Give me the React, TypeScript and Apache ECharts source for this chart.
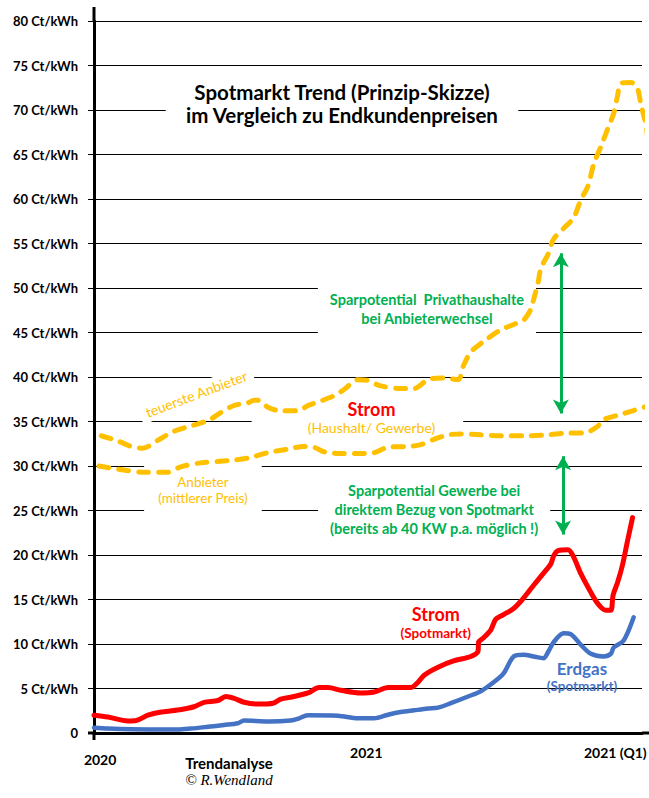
import React, { useEffect, useRef } from 'react';
import * as echarts from 'echarts';

// ---- axis definitions ----
const yMin = 0;
const yMax = 80;
const yStep = 5;
const yUnit = 'Ct/kWh';
const xMin = 0;
const xMax = 98.6;
const xTickPositions = [1.1, 49.0, 93.8];
const xTickLabels = ['2020', '2021', '2021 (Q1)'];

// ---- series values (x = position on the sketch time line, y = Ct/kWh) ----
const stromSpotX = [0, 2.5, 6.1, 7.6, 9.7, 12.1, 15.7, 18.0, 19.8, 22.3, 23.7, 25.2, 27.0, 29.5, 32.2, 33.6, 36.0, 38.5, 40.5, 42.1, 44.4, 48.0, 50.4, 52.9, 54.7, 57.0, 58.3, 59.4, 61.9, 64.7, 67.8, 69.1, 69.2, 70.1, 71.4, 72.3, 73.7, 75.5, 76.8, 78.1, 79.1, 80.4, 82.2, 82.7, 83.5, 85.3, 86.2, 87.6, 89.4, 90.7, 92.1, 93.0, 93.4, 94.2, 95.1, 96.0, 96.9];
const stromSpotY = [2.0, 1.8, 1.35, 1.4, 2.0, 2.35, 2.65, 2.95, 3.45, 3.65, 4.1, 3.9, 3.45, 3.25, 3.35, 3.8, 4.1, 4.5, 5.1, 5.1, 4.8, 4.5, 4.6, 5.1, 5.1, 5.1, 5.7, 6.5, 7.4, 8.1, 8.6, 9.2, 10.2, 10.7, 11.6, 12.8, 13.3, 14.0, 14.8, 15.8, 16.6, 17.6, 19.0, 19.9, 20.5, 20.6, 19.9, 17.9, 15.8, 14.5, 13.8, 13.8, 15.5, 16.9, 18.9, 21.6, 24.2];

const erdgasSpotX = [0, 2.5, 9.7, 15.1, 17.4, 20.5, 23.4, 25.9, 27.0, 31.3, 35.4, 36.7, 38.5, 43.9, 47.5, 50.4, 52.9, 55.2, 57.6, 60.1, 61.9, 64.2, 67.3, 69.6, 71.9, 73.7, 75.5, 77.3, 79.1, 80.9, 81.7, 82.7, 84.5, 85.8, 87.6, 89.4, 91.7, 93.0, 93.5, 95.3, 97.1];
const erdgasSpotY = [0.6, 0.5, 0.4, 0.4, 0.5, 0.7, 0.9, 1.1, 1.4, 1.3, 1.4, 1.6, 2.0, 1.95, 1.65, 1.65, 2.05, 2.35, 2.55, 2.75, 2.85, 3.35, 4.1, 4.7, 5.7, 6.7, 8.6, 8.8, 8.6, 8.4, 9.1, 10.2, 11.2, 11.1, 9.9, 8.9, 8.6, 8.9, 9.6, 10.4, 13.0];

const teuersteX = [1.3, 4.3, 6.7, 8.8, 11.5, 14.4, 17.4, 20.5, 22.8, 25.2, 27.7, 28.8, 30.0, 31.3, 33.6, 36.7, 38.5, 40.8, 43.2, 45.0, 47.5, 49.3, 51.6, 55.2, 57.6, 60.1, 62.9, 65.5, 66.5, 67.8, 70.1, 73.2, 75.5, 77.3, 78.6, 79.1, 79.9, 80.4, 81.7, 82.7, 84.5, 86.3, 87.6, 88.9, 89.9, 91.2, 92.5, 93.5, 94.2, 94.8, 96.6, 97.8, 98.4, 99.3, 99.8];
const teuersteY = [33.4, 32.8, 32.2, 32.0, 32.9, 33.9, 34.5, 35.1, 36.0, 36.8, 37.1, 37.4, 37.3, 36.6, 36.2, 36.2, 36.8, 37.3, 37.9, 38.6, 39.7, 39.6, 39.0, 38.7, 38.7, 39.7, 39.9, 39.7, 41.3, 42.8, 44.0, 45.3, 45.9, 46.4, 47.6, 48.7, 50.6, 52.2, 53.8, 55.5, 56.7, 57.9, 59.9, 61.5, 63.9, 65.9, 68.0, 69.6, 71.6, 73.0, 73.1, 72.4, 70.6, 68.4, 65.9];

const mittelX = [0.9, 4.3, 9.0, 13.3, 15.6, 19.2, 24.1, 27.7, 31.3, 34.9, 37.8, 39.6, 41.4, 44.4, 48.6, 50.4, 52.9, 56.5, 58.8, 61.2, 63.7, 66.0, 69.6, 73.2, 78.1, 81.7, 85.3, 88.1, 90.7, 91.2, 94.8, 100];
const mittelY = [30.0, 29.65, 29.3, 29.3, 29.9, 30.35, 30.6, 30.9, 31.5, 31.9, 32.2, 32.1, 31.6, 31.4, 31.4, 31.5, 32.1, 32.2, 32.4, 33.0, 33.5, 33.6, 33.5, 33.4, 33.4, 33.5, 33.7, 33.7, 34.5, 35.1, 35.8, 36.8];

// savings arrows: [x, from, to]
const arrowPrivat = [84.0, 53.9, 35.9];
const arrowGewerbe = [84.4, 31.1, 22.3];

const FONT = 'Lato';
const YELLOW = '#FFC000';
const RED = '#FF0000';
const BLUE = '#4472C4';
const GREEN = '#00B050';

const zip = (xs: number[], ys: number[]) => xs.map((x, i) => [x, ys[i]]);

export default function App() {
  const ref = useRef<HTMLDivElement>(null);

  useEffect(() => {
    if (!ref.current) return;
    const chart = echarts.init(ref.current, null, { renderer: 'svg' });

    const dashed = (color: string) => ({
      color,
      width: 5,
      type: [10, 10] as any,
      cap: 'round' as const,
      join: 'round' as const,
    });

    chart.setOption({
      animation: false,
      backgroundColor: '#ffffff',
      grid: { left: 94, right: 7, top: 21, bottom: 65, outerBoundsMode: 'none' } as any,
      xAxis: {
        type: 'value',
        min: xMin,
        max: xMax,
        z: 0,
        axisLine: { show: true, lineStyle: { color: '#000', width: 3 } },
        axisTick: { show: false },
        splitLine: { show: false },
        axisLabel: {
          show: true,
          customValues: xTickPositions,
          margin: 12,
          color: '#000',
          fontFamily: FONT,
          fontWeight: 'bold',
          fontSize: 14,
          formatter: (v: number) => {
            const i = xTickPositions.findIndex((p) => Math.abs(p - v) < 0.01);
            if (i < 0) return '';
            return i === 0 ? `{lo|${xTickLabels[i]}}` : `{n|${xTickLabels[i]}}`;
          },
          rich: {
            n: { fontFamily: FONT, fontWeight: 'bold', fontSize: 14, color: '#000' },
            lo: { fontFamily: FONT, fontWeight: 'bold', fontSize: 14, color: '#000', padding: [7, 0, 0, 0] },
          },
        },
      },
      yAxis: {
        type: 'value',
        min: yMin,
        max: yMax,
        interval: yStep,
        z: 0,
        axisLine: { show: true, lineStyle: { color: '#000', width: 3 } },
        axisTick: { show: true, length: 6, lineStyle: { color: '#000', width: 1 } },
        splitLine: { show: true, lineStyle: { color: '#000', width: 1 } },
        axisLabel: {
          margin: 16,
          color: '#000',
          fontFamily: FONT,
          fontWeight: 'bold',
          fontSize: 13,
          formatter: (v: number) => (v === 0 ? '0' : `${v} ${yUnit}`),
        },
      },
      series: [
        {
          name: 'teuerste Anbieter',
          type: 'line',
          data: zip(teuersteX, teuersteY),
          showSymbol: false,
          symbol: 'none',
          smooth: 0.3,
          clip: false,
          z: 3,
          lineStyle: dashed(YELLOW),
        },
        {
          name: 'Anbieter (mittlerer Preis)',
          type: 'line',
          data: zip(mittelX, mittelY),
          showSymbol: false,
          symbol: 'none',
          smooth: 0.3,
          clip: false,
          z: 3,
          lineStyle: dashed(YELLOW),
        },
        {
          name: 'Erdgas (Spotmarkt)',
          type: 'line',
          data: zip(erdgasSpotX, erdgasSpotY),
          showSymbol: false,
          symbol: 'none',
          smooth: 0.3,
          clip: false,
          z: 3,
          lineStyle: { color: BLUE, width: 4.5, cap: 'round', join: 'round' },
        },
        {
          name: 'Strom (Spotmarkt)',
          type: 'line',
          data: zip(stromSpotX, stromSpotY),
          showSymbol: false,
          symbol: 'none',
          smooth: 0.3,
          clip: false,
          z: 3,
          lineStyle: { color: RED, width: 5, cap: 'round', join: 'round' },
          markLine: {
            silent: true,
            symbol: ['arrow', 'arrow'],
            symbolSize: [12, 14],
            label: { show: false },
            lineStyle: { color: GREEN, width: 3, type: 'solid' },
            data: [
              [{ coord: [arrowPrivat[0], arrowPrivat[1]] }, { coord: [arrowPrivat[0], arrowPrivat[2]] }],
              [{ coord: [arrowGewerbe[0], arrowGewerbe[1]] }, { coord: [arrowGewerbe[0], arrowGewerbe[2]] }],
            ],
          },
        },
      ],
    });

    const P = (x: number, y: number) => chart.convertToPixel({ gridIndex: 0 }, [x, y]) as number[];
    const o = P(0, 0);
    const top = P(0, yMax);
    const right = P(xMax, 0);

    const txt = (x: number, y: number, style: any, z = 1, rotation = 0) => ({
      type: 'text',
      x,
      y,
      z,
      rotation,
      style: {
        align: 'center',
        verticalAlign: 'middle',
        textAlign: 'center',
        textVerticalAlign: 'middle',
        ...style,
      },
    });

    const a1 = P(47.4, 35.4);
    const a2 = P(18.4, 38.1);
    const a3 = P(19.6, 27.3);
    const a4 = P(59.9, 47.65);
    const a5 = P(61.2, 25.1);
    const a6 = P(61.5, 12.4);
    const a7 = P(87.8, 6.3);

    chart.setOption({
      graphic: {
        elements: [
          // axis line extensions and origin tick
          { type: 'line', z: 4, shape: { x1: o[0], y1: top[1] - 14, x2: o[0], y2: top[1] }, style: { stroke: '#000', lineWidth: 3 } },
          { type: 'line', z: 4, shape: { x1: o[0] - 6, y1: o[1], x2: o[0], y2: o[1] }, style: { stroke: '#000', lineWidth: 3 } },
          { type: 'line', z: 4, shape: { x1: right[0], y1: o[1], x2: 649, y2: o[1] }, style: { stroke: '#000', lineWidth: 3 } },
          { type: 'line', z: 4, shape: { x1: o[0], y1: o[1], x2: o[0], y2: o[1] + 7 }, style: { stroke: '#000', lineWidth: 3 } },
          // title
          txt(342, 103.5, {
            text: 'Spotmarkt Trend (Prinzip-Skizze)\nim Vergleich zu Endkundenpreisen',
            fill: '#000',
            font: `bold 20.5px ${FONT}`,
            lineHeight: 23,
            backgroundColor: '#fff',
            padding: [4, 20, 4, 20],
          }, 5),
          // annotations
          txt(a4[0], a4[1], {
            text: 'Sparpotential  Privathaushalte\nbei Anbieterwechsel',
            fill: GREEN,
            font: `bold 14.5px ${FONT}`,
            lineHeight: 19,
            backgroundColor: '#fff',
            padding: [6, 12, 6, 12],
          }),
          txt(a1[0], a1[1], {
            text: '{a|Strom}\n{b|(Haushalt/ Gewerbe)}',
            backgroundColor: '#fff',
            padding: [2, 28, 2, 56],
            rich: {
              a: { fill: RED, font: `bold 18px ${FONT}`, lineHeight: 20, align: 'center' },
              b: { fill: YELLOW, font: `14px ${FONT}`, lineHeight: 18, align: 'center' },
            },
          }),
          txt(a2[0], a2[1], {
            text: 'teuerste Anbieter',
            fill: YELLOW,
            font: `14px ${FONT}`,
            backgroundColor: '#fff',
            padding: [3, 6, 3, 6],
          }, 1, 0.36),
          txt(a3[0], a3[1], {
            text: 'Anbieter\n(mittlerer Preis)',
            fill: YELLOW,
            font: `13.5px ${FONT}`,
            lineHeight: 16,
            backgroundColor: '#fff',
            padding: [2, 14, 16, 14],
          }),
          txt(a5[0], a5[1], {
            text: 'Sparpotential Gewerbe bei\ndirektem Bezug von Spotmarkt\n(bereits ab 40 KW p.a. möglich !)',
            fill: GREEN,
            font: `bold 14.5px ${FONT}`,
            lineHeight: 19,
            backgroundColor: '#fff',
            padding: [6, 12, 6, 12],
          }),
          txt(a6[0], a6[1], {
            text: '{a|Strom}\n{b|(Spotmarkt)}',
            rich: {
              a: { fill: RED, font: `bold 18px ${FONT}`, lineHeight: 20, align: 'center' },
              b: { fill: RED, font: `bold 13.5px ${FONT}`, lineHeight: 17, align: 'center' },
            },
          }),
          txt(a7[0], a7[1], {
            text: '{a|Erdgas}\n{b|(Spotmarkt)}',
            rich: {
              a: { fill: BLUE, font: `bold 17px ${FONT}`, lineHeight: 19, align: 'center' },
              b: { fill: BLUE, font: `bold 13.5px ${FONT}`, lineHeight: 17, align: 'center' },
            },
          }),
          // footer
          txt(229, 763, { text: 'Trendanalyse', fill: '#000', font: `bold 15px ${FONT}` }),
          txt(229, 780, { text: '© R.Wendland', fill: '#000', font: 'italic 15px "Liberation Serif"' }),
        ],
      },
    });

    return () => chart.dispose();
  }, []);

  return (
    <div
      ref={ref}
      style={{ position: 'absolute', left: 0, top: 0, width: 649, height: 798, background: '#fff' }}
    />
  );
}
